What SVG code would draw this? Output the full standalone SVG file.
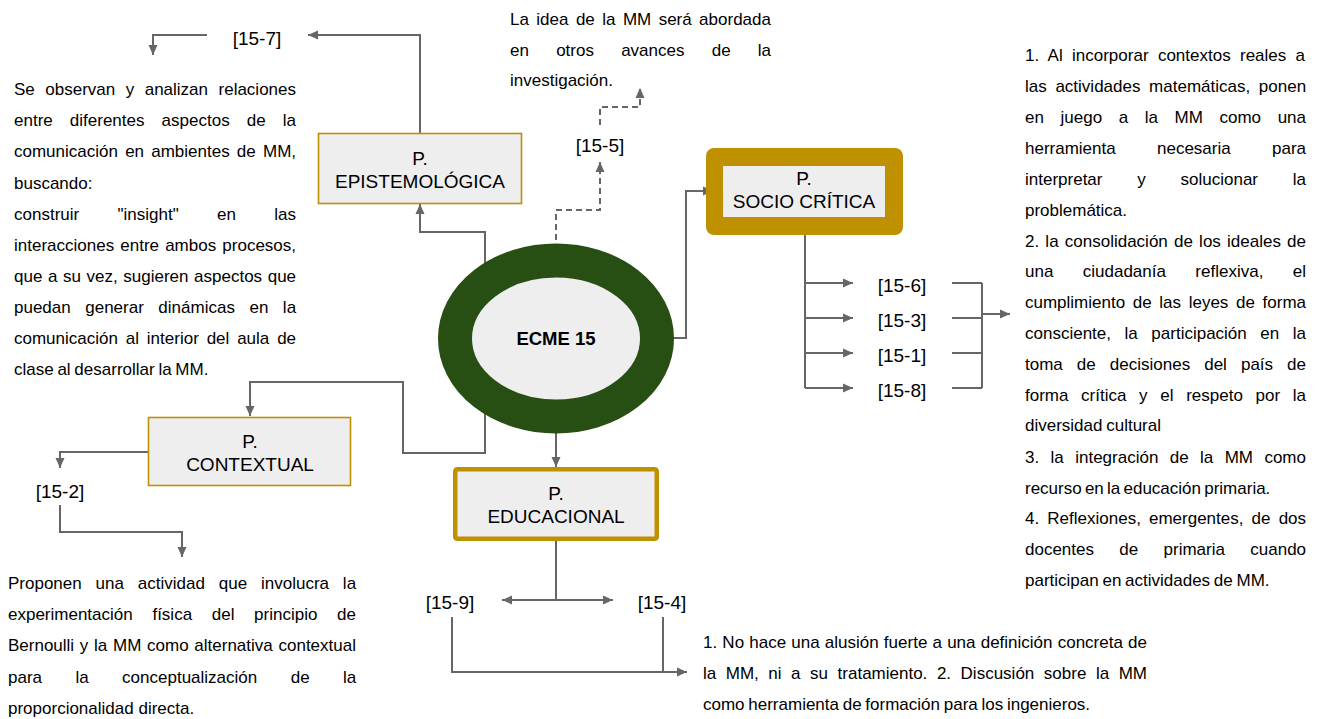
<svg xmlns="http://www.w3.org/2000/svg" width="1321" height="719" viewBox="0 0 1321 719">
<style>
.t{font-family:"Liberation Sans",Arial,sans-serif;font-size:17px;fill:#000}
.lb{font-family:"Liberation Sans",Arial,sans-serif;font-size:19px;fill:#000;text-anchor:middle}
.ln{fill:none;stroke:#666;stroke-width:2}
.ar{marker-end:url(#ah)}
.ds{stroke-dasharray:6,4}
.box{fill:#eeeeee;stroke:#bf9000;stroke-width:1.6}
</style>
<defs>
<marker id="ah" viewBox="0 0 10 10" refX="10" refY="5" markerWidth="10" markerHeight="10" markerUnits="userSpaceOnUse" orient="auto">
<path d="M0,0.5 L10,5 L0,9.5 z" fill="#666"/>
</marker>
</defs>
<rect width="1321" height="719" fill="#fff"/>

<g id="connectors">
<path class="ln ar" d="M485,283 V232 H420 V204"/>
<path class="ln ar" d="M420,133 V35 H308"/>
<path class="ln ar" d="M207,35 H153 V55"/>
<path class="ln ar ds" d="M556,260 V210 H600 V162"/>
<path class="ln ar ds" d="M600,125 V107 H640 V88"/>
<path class="ln ar" d="M657,338 H686 V191 H713"/>
<path class="ln" d="M805,227 V388"/>
<path class="ln ar" d="M805,283 H853"/>
<path class="ln ar" d="M805,318 H853"/>
<path class="ln ar" d="M805,353 H853"/>
<path class="ln ar" d="M805,388 H853"/>
<path class="ln" d="M952,283 H982 M952,318 H982 M952,353 H982 M952,388 H982 M982,283 V388"/>
<path class="ln ar" d="M982,314 H1010"/>
<path class="ln ar" d="M556,417 V467"/>
<path class="ln" d="M556,541 V600"/>
<path class="ln ar" d="M556,600 H502"/>
<path class="ln ar" d="M556,600 H613"/>
<path class="ln ar" d="M452,617 V672 H687"/>
<path class="ln" d="M663,617 V672"/>
<path class="ln ar" d="M485,395 V453 H403 V382 H250 V416"/>
<path class="ln ar" d="M148,452 H60 V468"/>
<path class="ln ar" d="M60,505 V532 H182 V557"/>
</g>

<g id="ecme15">
<ellipse cx="556" cy="338.5" rx="101" ry="78" fill="#eeeeee" stroke="#274e13" stroke-width="34"/>
<text x="556" y="345" class="lb" style="font-weight:bold;font-size:18.5px">ECME 15</text>
</g>

<g id="epistemologica">
<rect class="box" x="318.5" y="133.5" width="203" height="70"/>
<text class="lb" x="420" y="165">P.</text>
<text class="lb" x="420" y="188">EPISTEMOLÓGICA</text>
</g>

<g id="sociocritica">
<rect x="706" y="148" width="197" height="87" rx="8" fill="#bf9000"/>
<rect x="723" y="166" width="162" height="51" fill="#eeeeee"/>
<text class="lb" x="804" y="185">P.</text>
<text class="lb" x="804" y="208">SOCIO CRÍTICA</text>
</g>

<g id="contextual">
<rect class="box" x="148.5" y="417.5" width="202" height="68"/>
<text class="lb" x="250" y="448">P.</text>
<text class="lb" x="250" y="471">CONTEXTUAL</text>
</g>

<g id="educacional">
<rect x="455.25" y="469.25" width="201.5" height="69.5" rx="2" fill="#eeeeee" stroke="#bf9000" stroke-width="4.5"/>
<text class="lb" x="556" y="500">P.</text>
<text class="lb" x="556" y="523">EDUCACIONAL</text>
</g>

<g id="labels">
<text class="lb" x="257" y="45">[15-7]</text>
<text class="lb" x="600" y="152">[15-5]</text>
<text class="lb" x="902" y="292">[15-6]</text>
<text class="lb" x="902" y="327">[15-3]</text>
<text class="lb" x="902" y="362">[15-1]</text>
<text class="lb" x="902" y="397">[15-8]</text>
<text class="lb" x="60" y="498">[15-2]</text>
<text class="lb" x="450" y="609">[15-9]</text>
<text class="lb" x="662" y="609">[15-4]</text>
</g>

<g id="text-top">
<text class="t" x="510" y="25" word-spacing="2.7">La idea de la MM será abordada</text>
<text class="t" x="510" y="56" word-spacing="22.5">en otros avances de la</text>
<text class="t" x="510" y="86">investigación.</text>
</g>

<g id="text-left">
<text class="t" x="14" y="95" word-spacing="5.77">Se observan y analizan relaciones</text>
<text class="t" x="14" y="126" word-spacing="12.37">entre diferentes aspectos de la</text>
<text class="t" x="14" y="157" word-spacing="2.47">comunicación en ambientes de MM,</text>
<text class="t" x="14" y="189">buscando:</text>
<text class="t" x="14" y="220" word-spacing="33.6">construir "insight" en las</text>
<text class="t" x="14" y="251" word-spacing="1.4">interacciones entre ambos procesos,</text>
<text class="t" x="14" y="282" word-spacing="0.86">que a su vez, sugieren aspectos que</text>
<text class="t" x="14" y="313" word-spacing="9.8">puedan generar dinámicas en la</text>
<text class="t" x="14" y="344" word-spacing="3.11">comunicación al interior del aula de</text>
<text class="t" x="14" y="375" word-spacing="-1">clase al desarrollar la MM.</text>
</g>

<g id="text-right">
<text class="t" x="1025" y="61" word-spacing="4.61">1. Al incorporar contextos reales a</text>
<text class="t" x="1025" y="92" word-spacing="3.94">las actividades matemáticas, ponen</text>
<text class="t" x="1025" y="123" word-spacing="11.87">en juego a la MM como una</text>
<text class="t" x="1025" y="154" word-spacing="36.57">herramienta necesaria para</text>
<text class="t" x="1025" y="185" word-spacing="30.04">interpretar y solucionar la</text>
<text class="t" x="1025" y="216">problemática.</text>
<text class="t" x="1025" y="247" word-spacing="1.47">2. la consolidación de los ideales de</text>
<text class="t" x="1025" y="277" word-spacing="24.67">una ciudadanía reflexiva, el</text>
<text class="t" x="1025" y="308" word-spacing="2.91">cumplimiento de las leyes de forma</text>
<text class="t" x="1025" y="339" word-spacing="8.83">consciente, la participación en la</text>
<text class="t" x="1025" y="370" word-spacing="9.33">toma de decisiones del país de</text>
<text class="t" x="1025" y="401" word-spacing="7.94">forma crítica y el respeto por la</text>
<text class="t" x="1025" y="431" word-spacing="-1">diversidad cultural</text>
<text class="t" x="1025" y="463" word-spacing="6.67">3. la integración de la MM como</text>
<text class="t" x="1025" y="494" word-spacing="-1.5">recurso en la educación primaria.</text>
<text class="t" x="1025" y="524" word-spacing="3.4">4. Reflexiones, emergentes, de dos</text>
<text class="t" x="1025" y="555" word-spacing="20.6">docentes de primaria cuando</text>
<text class="t" x="1025" y="586" word-spacing="-1">participan en actividades de MM.</text>
</g>

<g id="text-bottom-left">
<text class="t" x="8" y="589" word-spacing="9.13">Proponen una actividad que involucra la</text>
<text class="t" x="8" y="620" word-spacing="14.95">experimentación física del principio de</text>
<text class="t" x="8" y="651" word-spacing="0.99">Bernoulli y la MM como alternativa contextual</text>
<text class="t" x="8" y="683" word-spacing="28.7">para la conceptualización de la</text>
<text class="t" x="8" y="714">proporcionalidad directa.</text>
</g>

<g id="text-bottom-right">
<text class="t" x="703" y="648" word-spacing="0.45">1. No hace una alusión fuerte a una definición concreta de</text>
<text class="t" x="703" y="679" word-spacing="4.81">la MM, ni a su tratamiento. 2. Discusión sobre la MM</text>
<text class="t" x="703" y="710" word-spacing="-1">como herramienta de formación para los ingenieros.</text>
</g>
</svg>
